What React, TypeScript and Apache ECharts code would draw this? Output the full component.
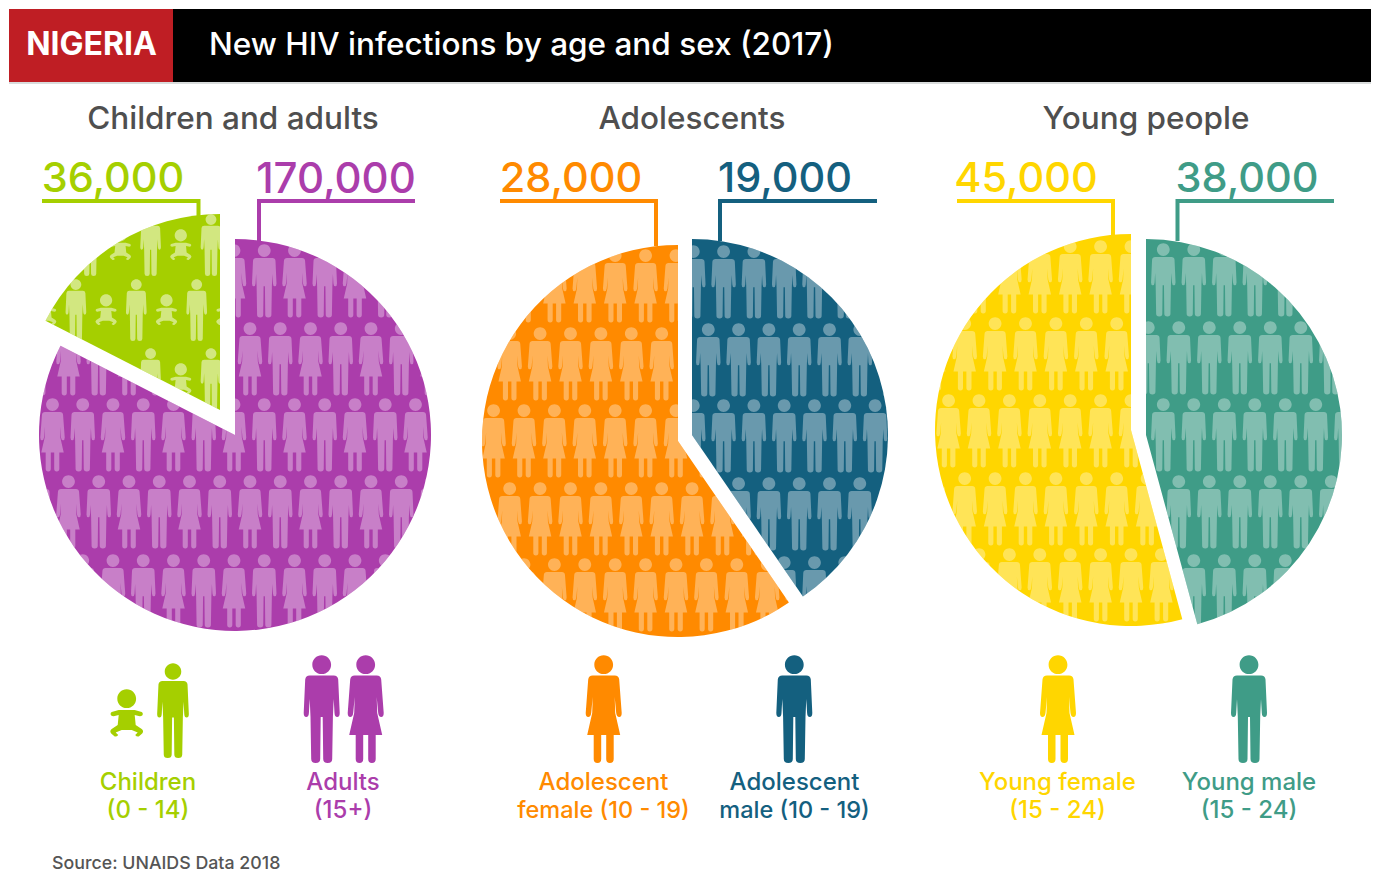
import React, { useEffect, useRef } from "react";
import * as echarts from "echarts";

const WIDTH = 1376;
const HEIGHT = 881;
const FONT = "Inter, 'Noto Sans', sans-serif";

const headerCountry = "NIGERIA";
const headerTitle = "New HIV infections by age and sex (2017)";
const sourceNote = "Source: UNAIDS Data 2018";

const pieTitles = ["Children and adults", "Adolescents", "Young people"];
const childrenAdultsNames = ["Adults", "Children"];
const childrenAdultsValues = [170000, 36000];
const adolescentNames = ["Adolescent male", "Adolescent female"];
const adolescentValues = [19000, 28000];
const youngNames = ["Young male", "Young female"];
const youngValues = [38000, 45000];

const HEAD = "M9.4,9.7 C9.4,14.9 5.2,19.1 0,19.1 C-5.2,19.1 -9.4,14.9 -9.4,9.7 C-9.4,4.5 -5.2,0.3 0,0.3 C5.2,0.3 9.4,4.5 9.4,9.7 Z ";
const MAN =
  HEAD +
  "M-12,20.5 L12,20.5 Q16,20.5 16.5,24.5 L18,58 Q18,62 15.5,62 Q13,62 12.8,58 L12,44 L11.2,62 L10.5,104 Q10.5,108 6,108 Q1.5,108 1.5,104 L1,62 L-1,62 L-1.5,104 Q-1.5,108 -6,108 Q-10.5,108 -10.5,104 L-11.2,62 L-12,44 L-12.8,58 Q-13,62 -15.5,62 Q-18,62 -18,58 L-16.5,24.5 Q-16,20.5 -12,20.5 Z";
const WOMAN =
  HEAD +
  "M-11,20.5 L11,20.5 Q15,20.5 15.5,24.5 L18,58 Q18,62 15.5,62 Q13,62 12.5,58 L11,42 L11.5,58 L16.5,80 L10,80 L10,104 Q10,108 6.2,108 Q2.5,108 2.5,104 L2.5,80 L-2.5,80 L-2.5,104 Q-2.5,108 -6.2,108 Q-10,108 -10,104 L-10,80 L-16.5,80 L-11.5,58 L-11,42 L-12.5,58 Q-13,62 -15.5,62 Q-18,62 -18,58 L-15.5,24.5 Q-15,20.5 -11,20.5 Z";
const BABY =
  HEAD +
  "M-8,21 L8,21 L15,23 Q17,24.5 15.5,26.5 Q14,27.5 12,27 L8,26 L9,36 L15,40 Q17.5,42 15.5,44.5 L12,47.5 Q10,48 8.5,46 L11,43.5 L5,41 L-5,41 L-11,43.5 L-8.5,46 Q-10,48 -12,47.5 L-15.5,44.5 Q-17.5,42 -15,40 L-9,36 L-8,26 L-12,27 Q-14,27.5 -15.5,26.5 Q-17,24.5 -15,23 Z";
const SHAPES: Record<string, string> = { man: MAN, woman: WOMAN, baby: BABY };

echarts.graphic.registerShape("man", echarts.graphic.extendPath(MAN, {}));
echarts.graphic.registerShape("woman", echarts.graphic.extendPath(WOMAN, {}));
echarts.graphic.registerShape("baby", echarts.graphic.extendPath(BABY, {}));

function place(shape: string, cx: number, top: number, s: number) {
  return SHAPES[shape].replace(/(-?[\d.]+),(-?[\d.]+)/g, (_m, a, b) =>
    `${(cx + parseFloat(a) * s).toFixed(2)},${(top + parseFloat(b) * s).toFixed(2)}`
  );
}

// The whole-page tile: a path of small figures laid over one slice as its decal.
type Texture = {
  cx: number; cy: number; tops: number[]; xA: number; xB: number; dx: number;
  kind: (k: number) => string; scale: Record<string, number>; drop?: Record<string, number>;
};
function texturePath(t: Texture) {
  const R = 215;
  const parts: string[] = ["M0,0 L0.01,0 L0.01,0.01 Z", `M${WIDTH},${HEIGHT} L${WIDTH - 0.01},${HEIGHT} L${WIDTH},${HEIGHT - 0.01} Z`];
  t.tops.forEach((top, r) => {
    const x0 = r % 2 === 0 ? t.xA : t.xB;
    for (let k = -16; k <= 16; k++) {
      const x = x0 + k * t.dx;
      if (Math.abs(x - t.cx) > R) continue;
      const shape = t.kind(k);
      parts.push(place(shape, x, top + (t.drop?.[shape] ?? 0), t.scale[shape]));
    }
  });
  return "path://" + parts.join(" ");
}
function decal(t: Texture, alpha: number) {
  return {
    symbol: texturePath(t),
    symbolSize: 1,
    symbolKeepAspect: false,
    color: `rgba(255,255,255,${alpha})`,
    dashArrayX: [[WIDTH, 0]],
    dashArrayY: [HEIGHT, 0],
    maxTileWidth: WIDTH,
    maxTileHeight: HEIGHT,
  };
}

const people = { man: 0.68, woman: 0.68, baby: 0.65 };
const womenOnly = () => "woman";
const menOnly = () => "man";

function sliceSeries(names: string[], values: number[], index: number, color: string, center: number[], tex: Texture, alpha: number) {
  return {
    type: "pie",
    center,
    radius: [0, 196],
    startAngle: 90,
    clockwise: true,
    silent: true,
    avoidLabelOverlap: false,
    label: { show: false },
    labelLine: { show: false },
    data: values.map((value, i) =>
      i === index
        ? { name: names[i], value, itemStyle: { color, decal: decal(tex, alpha) } }
        : { name: names[i], value, itemStyle: { color: "transparent" } }
    ),
  };
}

function textEl(text: string, x: number, y: number, fill: string, size: number, weight = 500, align = "center") {
  return {
    type: "text",
    z: 10,
    style: {
      text, x, y, fill,
      font: `${weight} ${size}px ${FONT}`,
      align, textAlign: align, verticalAlign: "middle", textVerticalAlign: "middle",
    },
  };
}
function leader(points: number[][], color: string) {
  return { type: "polyline", z: 5, shape: { points }, style: { stroke: color, lineWidth: 4, fill: "none" } };
}
function icon(shape: string, cx: number, top: number, s: number, color: string) {
  return { type: shape, x: cx, y: top, scaleX: s, scaleY: s, z: 5, style: { fill: color } };
}
const fmt = (v: number) => v.toLocaleString("en-US");

const PURPLE = "#AB3DAB";
const GREEN = "#A5CF00";
const ORANGE = "#FF8A00";
const BLUE = "#14607F";
const YELLOW = "#FFD600";
const TEAL = "#3F9C87";
const GREY = "#4F4F4F";

export default function App() {
  const ref = useRef<HTMLDivElement>(null);
  useEffect(() => {
    const chart = echarts.init(ref.current!, undefined, { renderer: "svg", width: WIDTH, height: HEIGHT });
    const series = [
      sliceSeries(childrenAdultsNames, childrenAdultsValues, 0, PURPLE, [235, 435], {
        cx: 235, cy: 435, tops: [244, 322, 398, 475, 554], xA: 234, xB: 250, dx: 30.25,
        kind: (k) => (k % 2 === 0 ? "woman" : "man"), scale: people,
      }, 0.34),
      sliceSeries(childrenAdultsNames, childrenAdultsValues, 1, GREEN, [220, 410], {
        cx: 220, cy: 410, tops: [214, 279, 348], xA: 211, xB: 196.7, dx: 30.2,
        kind: (k) => (k % 2 === 0 ? "man" : "baby"), scale: { man: 0.575, baby: 0.65 }, drop: { baby: 15 },
      }, 0.5),
      sliceSeries(adolescentNames, adolescentValues, 0, BLUE, [692, 435], {
        cx: 692, cy: 435, tops: [245, 323, 399, 477, 556], xA: 693.3, xB: 708.3, dx: 30.3,
        kind: menOnly, scale: people,
      }, 0.36),
      sliceSeries(adolescentNames, adolescentValues, 1, ORANGE, [678, 441], {
        cx: 678, cy: 441, tops: [249, 327, 404, 482, 558], xA: 676, xB: 661.7, dx: 30.4,
        kind: womenOnly, scale: people,
      }, 0.34),
      sliceSeries(youngNames, youngValues, 0, TEAL, [1146, 435], {
        cx: 1146, cy: 435, tops: [243, 321, 398, 475, 554], xA: 1163.3, xB: 1148.3, dx: 30.5,
        kind: menOnly, scale: people,
      }, 0.34),
      sliceSeries(youngNames, youngValues, 1, YELLOW, [1131, 430], {
        cx: 1131, cy: 430, tops: [240, 317, 394, 472, 548], xA: 1131, xB: 1116.7, dx: 30.4,
        kind: womenOnly, scale: people,
      }, 0.34),
    ];
    const graphic = [
      { type: "rect", shape: { x: 9, y: 9, width: 1362, height: 73 }, style: { fill: "#000" }, z: 1 },
      { type: "rect", shape: { x: 9, y: 9, width: 164, height: 73 }, style: { fill: "#BF1E24" }, z: 2 },
      { type: "rect", shape: { x: 9, y: 82, width: 1362, height: 2 }, style: { fill: "#D9DCDC" }, z: 1 },
      textEl(headerCountry, 91.5, 43.5, "#fff", 32, 700),
      textEl(headerTitle, 209, 43.5, "#fff", 31.5, 500, "left"),
      textEl(pieTitles[0], 233, 117, GREY, 31.5),
      textEl(pieTitles[1], 692, 117, GREY, 31.5),
      textEl(pieTitles[2], 1146, 117, GREY, 31.5),

      textEl(fmt(childrenAdultsValues[1]), 113, 177, GREEN, 41.5),
      textEl(fmt(childrenAdultsValues[0]), 336, 177, PURPLE, 42),
      textEl(fmt(adolescentValues[1]), 571, 177, ORANGE, 41.5),
      textEl(fmt(adolescentValues[0]), 785, 177, BLUE, 41.5),
      textEl(fmt(youngValues[1]), 1026, 177, YELLOW, 41.5),
      textEl(fmt(youngValues[0]), 1247, 177, TEAL, 41.5),

      leader([[42, 201], [198.5, 201], [198.5, 216]], GREEN),
      leader([[415, 201], [259, 201], [259, 241]], PURPLE),
      leader([[500, 201], [656, 201], [656, 246]], ORANGE),
      leader([[877, 201], [720, 201], [720, 241]], BLUE),
      leader([[957, 201], [1113, 201], [1113, 236]], YELLOW),
      leader([[1334, 201], [1177.5, 201], [1177.5, 241]], TEAL),

      icon("baby", 126.7, 689, 1, GREEN),
      icon("man", 173, 663, 0.88, GREEN),
      icon("man", 321.7, 655, 1, PURPLE),
      icon("woman", 365.7, 655, 1, PURPLE),
      icon("woman", 603.7, 655, 1, ORANGE),
      icon("man", 794.3, 655, 1, BLUE),
      icon("woman", 1058, 655, 1, YELLOW),
      icon("man", 1249, 655, 1, TEAL),

      textEl("Children", 148, 781, GREEN, 24),
      textEl("(0 - 14)", 148, 809, GREEN, 24),
      textEl("Adults", 343, 781, PURPLE, 24),
      textEl("(15+)", 343, 809, PURPLE, 24),
      textEl("Adolescent", 603.5, 781.5, ORANGE, 24),
      textEl("female (10 - 19)", 603.5, 809.5, ORANGE, 23.5),
      textEl("Adolescent", 794.5, 781.5, BLUE, 24),
      textEl("male (10 - 19)", 794.5, 809.5, BLUE, 23.5),
      textEl("Young female", 1057.5, 781.5, YELLOW, 24),
      textEl("(15 - 24)", 1057.5, 809.5, YELLOW, 24),
      textEl("Young male", 1249, 781.5, TEAL, 24),
      textEl("(15 - 24)", 1249, 809.5, TEAL, 24),
      textEl(sourceNote, 52, 862.5, "#555", 17.8, 500, "left"),
    ];
    chart.setOption({ animation: false, backgroundColor: "#fff", tooltip: { show: false }, series, graphic });
    return () => chart.dispose();
  }, []);
  return (
    <div style={{ position: "fixed", left: 0, top: 0, width: WIDTH, height: HEIGHT }}>
      <div ref={ref} style={{ width: WIDTH, height: HEIGHT }} />
    </div>
  );
}
